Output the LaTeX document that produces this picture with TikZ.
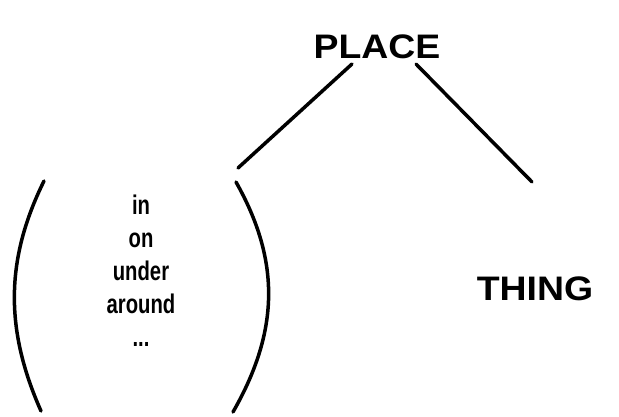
\documentclass[tikz,border=0pt]{standalone}
\usepackage{fontspec}
\setmainfont{Liberation Sans}
\newfontfamily\capsans[FakeStretch=1.1]{Liberation Sans}
\newfontfamily\narrowsans[FakeStretch=0.75]{Liberation Sans}
\usetikzlibrary{positioning}
\tikzset{
  word/.style={font=\capsans\fontsize{34}{40}\selectfont\bfseries,inner sep=0pt},
  small/.style={font=\narrowsans\fontsize{27}{33}\selectfont\bfseries,inner sep=0pt},
  stroke/.style={line width=3.5pt,line cap=round}
}

\begin{document}
\begin{tikzpicture}[x=1pt,y=-1pt]
  \useasboundingbox (0,0) rectangle (619,416);
  \node[word,anchor=base] (place) at (377,58) {PLACE};
  \node[word,anchor=base] (thing) at (535,300) {THING};
  \node[small,align=center,anchor=base] (preps) at (141,346)
    {in\\on\\under\\around\\...};
  % branches
  \coordinate (ltop) at (352,64);
  \coordinate (lend) at (238,168);
  \coordinate (rtop) at (416,64);
  \coordinate (rend) at (532,182);
  \draw[stroke] (ltop) -- (lend);
  \draw[stroke] (rtop) -- (rend);
  % brackets round the list
  \coordinate (lpa) at (44,181);
  \coordinate (lpb) at (41,411);
  \coordinate (rpa) at (236,182);
  \coordinate (rpb) at (233,412);
  \draw[stroke] (lpa) .. controls (5,260) and (5,330) .. (lpb);
  \draw[stroke] (rpa) .. controls (280,260) and (280,330) .. (rpb);
\end{tikzpicture}
\end{document}
